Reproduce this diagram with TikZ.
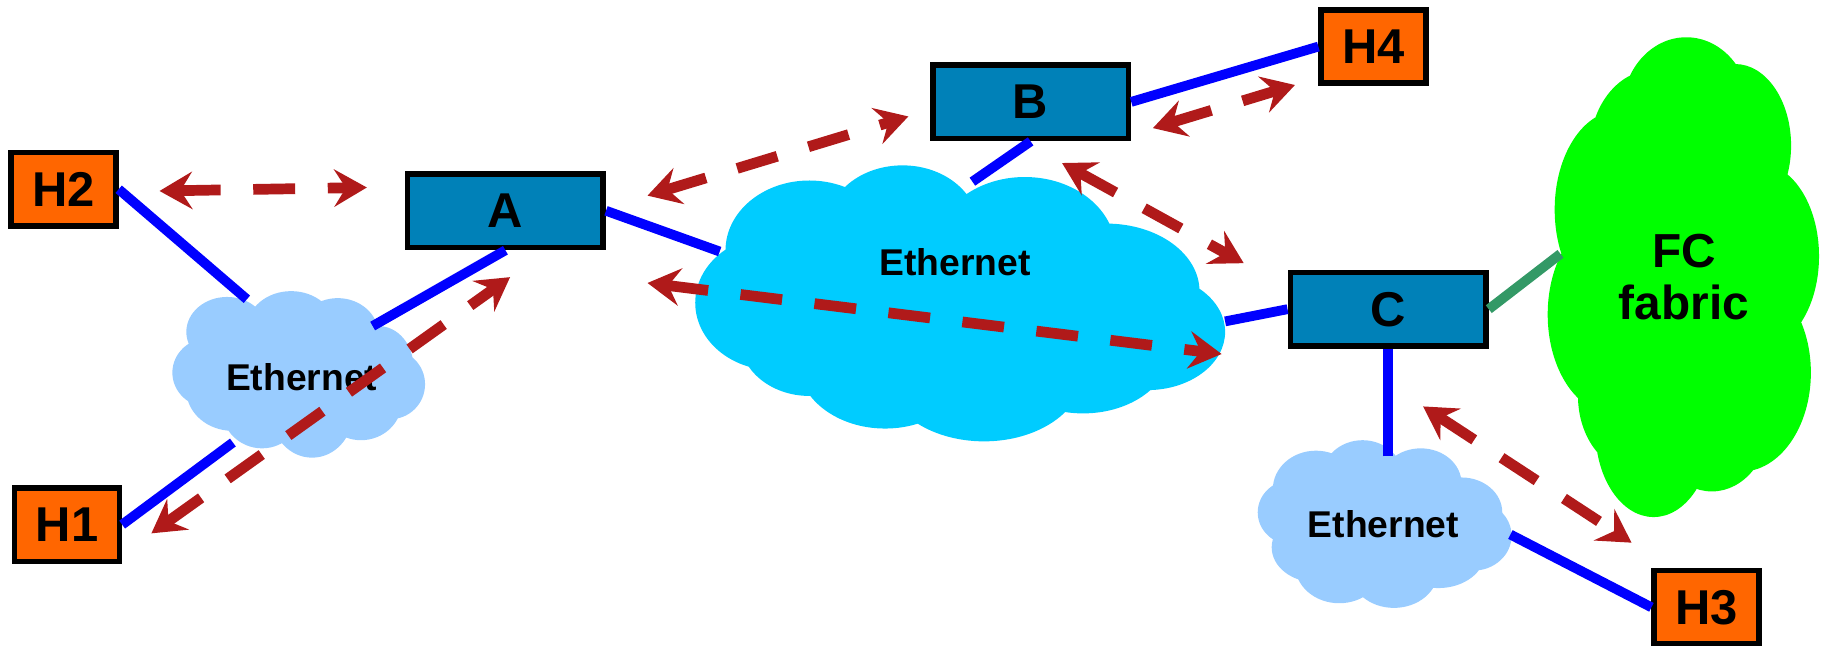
\documentclass[tikz,border=0pt]{standalone}
\usepackage{fontspec}
\setmainfont{Liberation Sans}
\usetikzlibrary{arrows.meta}
\definecolor{swfill}{HTML}{0081B8}
\definecolor{hostfill}{HTML}{FF6600}
\definecolor{cloudlight}{HTML}{99CCFF}
\definecolor{cloudcyan}{HTML}{00CCFF}
\definecolor{cloudgreen}{HTML}{00FF00}
\definecolor{linkblue}{HTML}{0000FF}
\definecolor{linkgreen}{HTML}{339966}
\definecolor{flowred}{HTML}{B01A1A}
\newcommand{\puff}[4]{(#1,#2) ellipse [x radius=#3, y radius=#4]}
\tikzset{
  box/.style={draw=black,line width=2.4pt,inner sep=0pt,font=\bfseries\fontsize{21}{24}\selectfont,text=black},
  swbox/.style={box,fill=swfill,minimum width=84pt,minimum height=31.5pt},
  hostbox/.style={box,fill=hostfill,minimum width=45pt,minimum height=31.5pt},
  cloudlabel/.style={inner sep=0pt,font=\bfseries\fontsize{16}{20}\selectfont,text=black,align=center},
  link/.style={draw=linkblue,line width=4.2pt},
  fclink/.style={draw=linkgreen,line width=4.2pt},
  flow/.style={draw=flowred,line width=4.6pt,dash pattern=on 18pt off 14pt,
    {Stealth[length=14pt,width=16pt,inset=5pt]}-{Stealth[length=14pt,width=16pt,inset=5pt]}},
}
\begin{document}
\begin{tikzpicture}[x=0.5pt,y=-0.5pt]
\useasboundingbox (0,0) rectangle (1568,554.7);
% clouds
\fill[cloudlight] \puff{195}{285}{35}{30} \puff{250}{282}{38}{32} \puff{290}{287}{35}{31}
  \puff{325}{315}{30}{35} \puff{335}{330}{30}{30} \puff{310}{345}{35}{33} \puff{268}{355}{35}{38}
  \puff{225}{350}{35}{35} \puff{180}{320}{32}{30} \puff{200}{335}{40}{35} \puff{255}{320}{80}{50};
\fill[cloudcyan] \puff{695}{215}{72}{60} \puff{775}{195}{65}{53} \puff{880}{215}{78}{63}
  \puff{950}{250}{80}{58} \puff{985}{285}{67}{50} \puff{930}{300}{75}{55} \puff{845}{320}{85}{59}
  \puff{760}{310}{75}{58} \puff{695}{290}{60}{50} \puff{665}{260}{68}{58} \puff{820}{260}{170}{80};
\fill[cloudgreen] \puff{1448}{95}{55}{63} \puff{1490}{125}{48}{70} \puff{1510}{220}{52}{80}
  \puff{1495}{320}{60}{85} \puff{1470}{360}{50}{62} \puff{1420}{370}{50}{74} \puff{1405}{340}{50}{65}
  \puff{1385}{270}{56}{85} \puff{1390}{180}{55}{85} \puff{1420}{130}{55}{70} \puff{1445}{240}{90}{140};
\fill[cloudlight] \puff{1130}{420}{37}{33} \puff{1170}{410}{35}{32} \puff{1220}{415}{35}{30}
  \puff{1255}{440}{35}{30} \puff{1265}{460}{33}{30} \puff{1235}{475}{40}{30} \puff{1197}{490}{38}{32}
  \puff{1150}{485}{38}{33} \puff{1130}{470}{38}{30} \puff{1110}{440}{30}{28} \puff{1190}{450}{80}{50};
% labels
\node[cloudlabel] (eth1) at (259,324) {Ethernet};
\node[cloudlabel] (eth2) at (820,225) {Ethernet};
\node[cloudlabel] (eth3) at (1188,450) {Ethernet};
\node[cloudlabel,font=\bfseries\fontsize{20.5}{22.5}\selectfont] (fc) at (1446,238) {FC\\fabric};
% boxes
\node[swbox] (A) at (434,181) {A};
\node[swbox] (B) at (885,87.5) {B};
\node[swbox] (C) at (1192,265.5) {C};
\node[hostbox] (H2) at (54.5,162.5) {H2};
\node[hostbox] (H1) at (57.5,450.5) {H1};
\node[hostbox] (H4) at (1179.5,40) {H4};
\node[hostbox] (H3) at (1465.5,521.5) {H3};
% cloud attachment points
\coordinate (e1nw) at (212,257);
\coordinate (e1sw) at (200,380);
\coordinate (e1ne) at (320,280);
\coordinate (e2w) at (618,216);
\coordinate (e2n) at (835,156);
\coordinate (e2e) at (1052,276);
\coordinate (e3n) at (1192,392);
\coordinate (e3e) at (1297,459);
\coordinate (fcw) at (1340,218);
% links
\draw[link] (e1nw) -- (H2.east);
\draw[link] (e1sw) -- (H1.east);
\draw[link] (e1ne) -- (A.south);
\draw[link] (e2w) -- (A.east);
\draw[link] (e2n) -- (B.south);
\draw[link] (e2e) -- (C.west);
\draw[link] (e3n) -- (C.south);
\draw[link] (e3e) -- (H3.west);
\draw[link] (B.east) -- (H4.west);
\draw[fclink] (C.east) -- (fcw);
% flow end points
\coordinate (f1a) at (137,164); \coordinate (f1b) at (315,161);
\coordinate (f2a) at (130,458); \coordinate (f2b) at (438,238);
\coordinate (f3a) at (556,168); \coordinate (f3b) at (780,100);
\coordinate (f4a) at (990,110); \coordinate (f4b) at (1112,73);
\coordinate (f5a) at (912,140); \coordinate (f5b) at (1068,226);
\coordinate (f6a) at (556,243); \coordinate (f6b) at (1049,304);
\coordinate (f7a) at (1222,349); \coordinate (f7b) at (1401,466);
% flows
\draw[flow] (f1a) -- (f1b);
\draw[flow] (f2a) -- (f2b);
\draw[flow] (f3a) -- (f3b);
\draw[flow] (f4a) -- (f4b);
\draw[flow] (f5a) -- (f5b);
\draw[flow] (f6a) -- (f6b);
\draw[flow] (f7a) -- (f7b);
\end{tikzpicture}
\end{document}
